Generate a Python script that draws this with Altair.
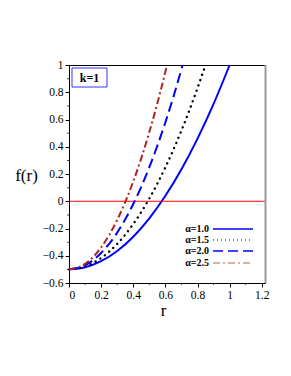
import altair as alt
import pandas as pd

# data
r_a10 = [0, 0.1, 0.2, 0.3, 0.4, 0.5, 0.6, 0.7, 0.8, 0.9, 1.0]
f_a10 = [-0.5, -0.485, -0.44, -0.365, -0.26, -0.125, 0.04, 0.235, 0.46, 0.715, 1.0]
r_a15 = [0, 0.1, 0.2, 0.3, 0.4, 0.5, 0.6, 0.7, 0.8, 0.84]
f_a15 = [-0.5, -0.479, -0.417, -0.313, -0.167, 0.02, 0.249, 0.519, 0.831, 0.968]
r_a20 = [0, 0.1, 0.2, 0.3, 0.4, 0.5, 0.6, 0.7, 0.707]
f_a20 = [-0.5, -0.47, -0.38, -0.23, -0.02, 0.25, 0.58, 0.97, 1.0]
r_a25 = [0, 0.1, 0.2, 0.3, 0.4, 0.5, 0.6, 0.61]
f_a25 = [-0.5, -0.46, -0.339, -0.137, 0.145, 0.508, 0.951, 1.0]

x_ticks = [0, 0.2, 0.4, 0.6, 0.8, 1.0, 1.2]
y_ticks = [-0.6, -0.4, -0.2, 0, 0.2, 0.4, 0.6, 0.8, 1.0]
x_minor = [0.1, 0.3, 0.5, 0.7, 0.9, 1.1]
y_minor = [-0.5, -0.3, -0.1, 0.1, 0.3, 0.5, 0.7, 0.9]
legend_labels = ["α=1.0", "α=1.5", "α=2.0", "α=2.5"]

FONT = "Liberation Serif"
W, H = 196, 218

xscale = alt.Scale(domain=[0, 1.22], nice=False, zero=False)
yscale = alt.Scale(domain=[-0.6, 1.0], nice=False, zero=False)

xaxis = alt.Axis(values=x_ticks, format=".1~f", title="r", grid=False,
                 tickSize=4, labelPadding=2, titleFontSize=17, titleFont=FONT,
                 titleFontWeight="normal", titleY=27, titleX=94, titleBaseline="middle",
                 domainColor="black", tickColor="black", labelColor="black",
                 labelFont=FONT, labelFontSize=11.5)
yaxis = alt.Axis(values=y_ticks, format=".1~f", title="f(r)", grid=False,
                 tickSize=4, labelPadding=2, titleFontSize=17, titleFont=FONT,
                 titleFontWeight="normal", titleAngle=0, titleX=-43, titleY=110,
                 titleAlign="center", titleBaseline="middle",
                 domainColor="black", tickColor="black", labelColor="black",
                 labelFont=FONT, labelFontSize=11.5)


def curve(rs, fs, color, dash, width, cap="butt"):
    df = pd.DataFrame({"r": rs, "f": fs})
    m = alt.Chart(df).mark_line(color=color, strokeWidth=width, strokeCap=cap,
                                interpolate="monotone",
                                **({"strokeDash": dash} if dash else {}))
    return m.encode(x=alt.X("r:Q", scale=xscale, axis=xaxis),
                    y=alt.Y("f:Q", scale=yscale, axis=yaxis))


zero_line = alt.Chart(pd.DataFrame({"f": [0]})).mark_rule(color="red", strokeWidth=1).encode(
    y=alt.Y("f:Q", scale=yscale, axis=yaxis))

# minor ticks
ymin_ticks = alt.Chart(pd.DataFrame({"f": y_minor})).mark_tick(
    orient="horizontal", size=2, thickness=1, color="black").encode(
    y=alt.Y("f:Q", scale=yscale, axis=yaxis), x=alt.value(-1))
xmin_ticks = alt.Chart(pd.DataFrame({"r": x_minor})).mark_tick(
    orient="vertical", size=2, thickness=1, color="black").encode(
    x=alt.X("r:Q", scale=xscale, axis=xaxis), y=alt.value(H + 1))

c10 = curve(r_a10, f_a10, "#0000ff", None, 2)
c15 = curve(r_a15, f_a15, "black", [0.1, 5.5], 2.4, cap="round")
c20 = curve(r_a20, f_a20, "#0000ff", [10, 5], 2)
c25 = curve(r_a25, f_a25, "#b22222", [7, 3, 2, 3], 2)

# k=1 box
kbox = alt.Chart(pd.DataFrame({"t": ["k=1"]})).mark_rect(
    fill="white", stroke="#3333ff", strokeWidth=1).encode(
    x=alt.value(3), x2=alt.value(38), y=alt.value(3), y2=alt.value(22))
ktext = alt.Chart(pd.DataFrame({"t": ["k=1"]})).mark_text(
    font=FONT, fontSize=12, fontWeight="bold", color="black").encode(
    text="t:N", x=alt.value(20.5), y=alt.value(13))

# legend
leg_styles = [
    ("#0000ff", None, 1.3),
    ("black", [1, 3], 1.2),
    ("#0000ff", [10, 5], 1.3),
    ("#dcb0a0", [7, 3, 2, 3], 2),
]
leg_y = [164, 175, 186, 198]
legend_layers = []
for lab, (col, dash, w), yy in zip(legend_labels, leg_styles, leg_y):
    legend_layers.append(
        alt.Chart(pd.DataFrame({"t": [lab]})).mark_text(
            font=FONT, fontSize=10, fontWeight="bold", align="right",
            baseline="middle", color="black").encode(
            text="t:N", x=alt.value(140), y=alt.value(yy)))
    legend_layers.append(
        alt.Chart(pd.DataFrame({"t": [lab]})).mark_rule(
            color=col, strokeWidth=w, **({"strokeDash": dash} if dash else {})).encode(
            x=alt.value(144), x2=alt.value(184), y=alt.value(yy)))

right_edge = alt.Chart(pd.DataFrame({"t": [0]})).mark_rule(
    color="#999999", strokeWidth=2).encode(
    x=alt.value(W + 0.5), y=alt.value(0), y2=alt.value(H))

chart = alt.layer(c10, zero_line, ymin_ticks, xmin_ticks, c15, c20, c25, kbox, ktext,
                  *legend_layers, right_edge).properties(
    width=W, height=H,
    background="white",
    autosize=alt.AutoSizeParams(type="none"),
    padding={"left": 61, "top": 57, "right": 18, "bottom": 85},
).configure_view(stroke="black", strokeWidth=1)

chart.save("out.html", embed_options={"renderer": "svg", "actions": False})
